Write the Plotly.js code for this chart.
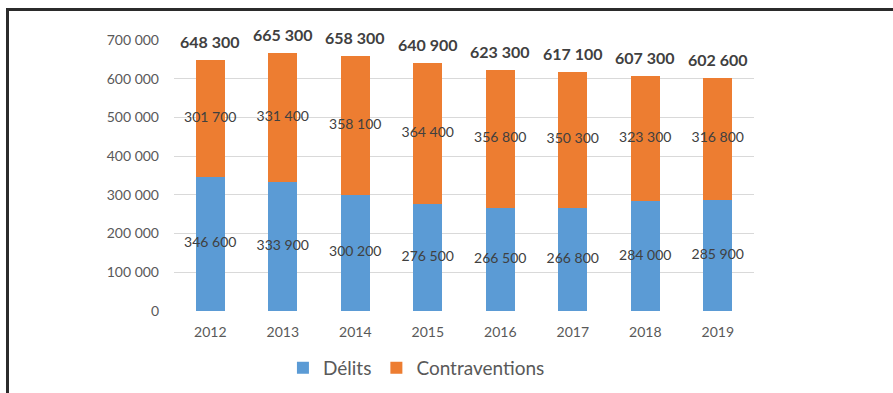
<!DOCTYPE html>
<html><head><meta charset="utf-8">
<script src="https://cdn.plot.ly/plotly-3.0.1.min.js"></script>
<style>
html,body{margin:0;padding:0;background:#fff;}
#frame{position:absolute;left:6px;top:8px;width:887px;height:385px;border-top:3px solid #2b2b2b;border-left:3px solid #2b2b2b;box-sizing:border-box;}
#chart{position:absolute;left:0;top:0;width:893px;height:393px;}
</style></head>
<body>
<div id="chart"></div>
<div id="frame"></div>
<script>
const years = [2012, 2013, 2014, 2015, 2016, 2017, 2018, 2019];
const delits = [346600, 333900, 300200, 276500, 266500, 266800, 284000, 285900];
const contraventions = [301700, 331400, 358100, 364400, 356800, 350300, 323300, 316800];
const totals = [648300, 665300, 658300, 640900, 623300, 617100, 607300, 602600];
const yTicks = [0,100000,200000,300000,400000,500000,600000,700000];
const yTickText = ['0','100 000','200 000','300 000','400 000','500 000','600 000','700 000'];

const fmt = v => String(v).replace(/\B(?=(\d{3})+(?!\d))/g, ' ');
const FONT = 'Lato, "Open Sans", sans-serif';
const labelFont = {family:FONT, size:14, color:'#404040'};

const traces = [
  {type:'bar', name:'Délits', x:years, y:delits, marker:{color:'#5B9BD5'}},
  {type:'bar', name:'Contraventions', x:years, y:contraventions, marker:{color:'#ED7D31'}},
  {type:'scatter', mode:'text', x:years, y:delits.map(v=>v/2), text:delits.map(fmt),
   textfont:labelFont, showlegend:false, cliponaxis:false},
  {type:'scatter', mode:'text', x:years, y:contraventions.map((v,i)=>delits[i]+v/2), text:contraventions.map(fmt),
   textfont:labelFont, showlegend:false, cliponaxis:false}
];

const annotations = years.map((yr,i)=>({
  x:yr, y:totals[i], xref:'x', yref:'y', text:'<b>'+fmt(totals[i])+'</b>', showarrow:false,
  yanchor:'bottom', yshift:7, font:{family:FONT, size:16, color:'#404040'}
}));

const layout = {
  width:893, height:393,
  margin:{l:174, r:139, t:40, b:82, pad:0, autoexpand:false},
  paper_bgcolor:'rgba(0,0,0,0)', plot_bgcolor:'rgba(0,0,0,0)',
  barmode:'stack', bargap:0.6,
  showlegend:true,
  legend:{orientation:'h', x:0.418, xanchor:'center', y:-0.21, yanchor:'middle',
    font:{family:FONT, size:19, color:'#595959'}, itemwidth:30, traceorder:'normal'},
  xaxis:{type:'linear', range:[2011.5, 2019.5], tickvals:years, ticktext:years.map(String),
    showgrid:false, zeroline:false, showline:false, ticks:'', ticklabelstandoff:11,
    tickfont:{family:FONT, size:14, color:'#595959'}},
  yaxis:{range:[0,700000], tickvals:yTicks, ticktext:yTickText, showgrid:true, gridcolor:'#D9D9D9',
    zeroline:false, showline:false, ticks:'', ticklabelstandoff:14,
    tickfont:{family:FONT, size:14, color:'#595959'}},
  annotations:annotations
};
Plotly.newPlot('chart', traces, layout, {displayModeBar:false, staticPlot:true});
</script>
</body></html>
